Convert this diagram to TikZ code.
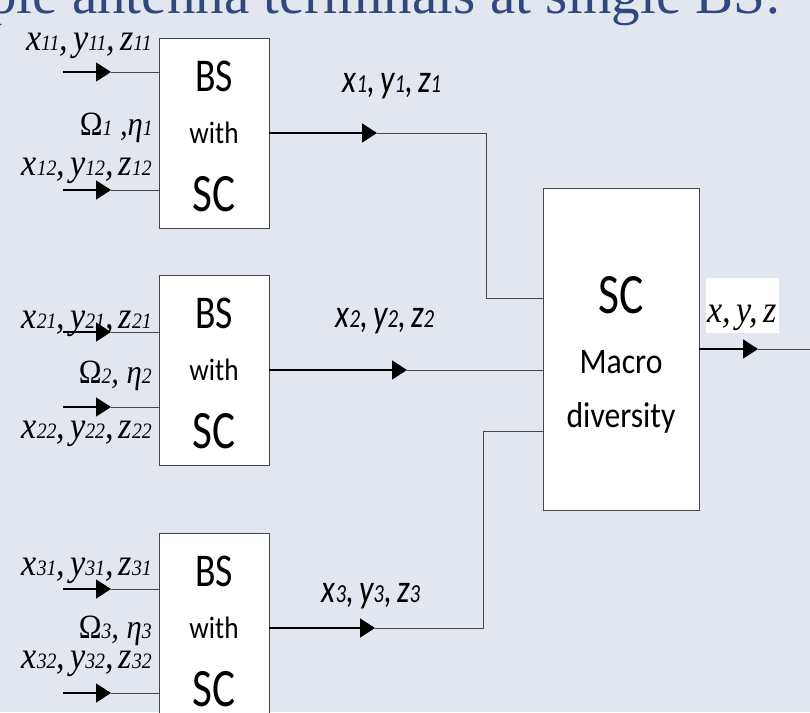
\documentclass[tikz,border=0pt]{standalone}
\usepackage{fontspec}
\usetikzlibrary{arrows.meta}

\newfontfamily\boxfont{Carlito}[FakeStretch=0.8]
\newfontfamily\boxsmallfont{Carlito}[FakeStretch=0.88]
\newfontfamily\sigfont{Liberation Serif}[FakeStretch=0.9]
\newfontfamily\headfont{Liberation Serif}

\definecolor{slidebg}{RGB}{226,230,239}
\definecolor{headblue}{RGB}{47,72,128}
\definecolor{wiregray}{RGB}{70,70,70}

\newcommand{\lsub}[2][24]{{\fontsize{#1}{#1}\selectfont #2}}
\newcommand{\trip}[2]{x\lsub[#1]{#2},\hspace{5pt}y\lsub[#1]{#2},\hspace{5pt}z\lsub[#1]{#2}}

\begin{document}
\begin{tikzpicture}[x=1pt,y=-1pt,
  bsbox/.style={draw=wiregray, line width=0.8pt, fill=white, minimum width=110pt, minimum height=190pt, inner sep=0pt},
  macrobox/.style={bsbox, minimum width=156pt, minimum height=322pt},
  bigtxt/.style={font=\boxfont\fontsize{#1}{#1}\selectfont, inner sep=0pt, anchor=base},
  midtxt/.style={font=\boxsmallfont\fontsize{#1}{#1}\selectfont, inner sep=0pt, anchor=base},
  sig/.style={font=\sigfont\itshape\fontsize{38}{38}\selectfont, inner sep=0pt, anchor=base east},
  gain/.style={font=\sigfont\itshape\fontsize{34}{34}\selectfont, inner sep=0pt, anchor=base east},
  outsig/.style={font=\boxfont\itshape\fontsize{40}{40}\selectfont, inner sep=0pt, anchor=base},
  outtag/.style={fill=white, font=\sigfont\itshape\fontsize{38}{38}\selectfont, inner sep=0pt, text height=44pt, text depth=11pt, minimum width=73pt, anchor=base},
  feed/.style={line width=1.6pt, -{Triangle[length=15pt,width=19pt]}},
  wire/.style={line width=0.8pt, draw=wiregray}]

  \fill[slidebg] (0,0) rectangle (810,712);
  \useasboundingbox (0,0) rectangle (810,712);
  \clip (0,0) rectangle (810,712);

  % slide heading, cut by the frame
  \node[font=\headfont\fontsize{57}{57}\selectfont, text=headblue, inner sep=0pt, anchor=base west] (head) at (-12,13) {ple antenna terminals at single BS:};

  % base stations with their two inputs
  \foreach \i/\cy/\ya/\yb/\la/\lb in {1/133/72/190/50/175, 2/370/332/407/328/438, 3/628/589/693/575/668} {
    \node[bsbox] (bs\i) at (214,\cy) {};
    \node[bigtxt=47] (bs\i-top) at ([yshift=42pt]bs\i.center) {BS};
    \node[midtxt=31] (bs\i-mid) at ([yshift=-10pt]bs\i.center) {with};
    \node[bigtxt=54] (bs\i-bot) at ([yshift=-78pt]bs\i.center) {SC};
    \coordinate (in\i1) at (63,\ya);
    \coordinate (in\i2) at (63,\yb);
    \coordinate (tip\i1) at (111,\ya);
    \coordinate (tip\i2) at (111,\yb);
    \draw[feed] (in\i1) -- (tip\i1);
    \draw[wire] (tip\i1) -- (tip\i1 -| bs\i.west);
    \draw[feed] (in\i2) -- (tip\i2);
    \draw[wire] (tip\i2) -- (tip\i2 -| bs\i.west);
    \node[sig] (lab\i1) at (152,\la) {\trip{22}{\i1}};
    \node[sig] (lab\i2) at (152,\lb) {\trip{22}{\i2}};
  }

  % gains
  \node[gain] (gain1) at (153,135) {{\upshape Ω}\lsub[22]{1} ,η\lsub[22]{1}};
  \node[gain] (gain2) at (152,383) {{\upshape Ω}\lsub[22]{2}, η\lsub[22]{2}};
  \node[gain] (gain3) at (152,638) {{\upshape Ω}\lsub[22]{3}, η\lsub[22]{3}};

  % macro diversity combiner
  \node[macrobox] (macro) at (621,349) {};
  \node[bigtxt=57] (macro-top) at ([yshift=36pt]macro.center) {SC};
  \node[midtxt=36] (macro-mid) at ([yshift=-24pt]macro.center) {Macro};
  \node[midtxt=36] (macro-bot) at ([yshift=-78pt]macro.center) {diversity};

  % links to the combiner
  \coordinate (o1) at (377,133);
  \coordinate (o2) at (407,370);
  \coordinate (o3) at (375,628);
  \coordinate (j1) at (486,298);
  \coordinate (j3) at (483,431);
  \draw[feed] (bs1.east) -- (o1);
  \draw[wire] (o1) -| (j1) -- (j1 -| macro.west);
  \draw[feed] (bs2.east) -- (o2);
  \draw[wire] (o2) -- (o2 -| macro.west);
  \draw[feed] (bs3.east) -- (o3);
  \draw[wire] (o3) -| (j3) -- (j3 -| macro.west);

  \node[outsig] (out1) at (392,92) {\trip{26}{1}};
  \node[outsig] (out2) at (385,327) {\trip{26}{2}};
  \node[outsig] (out3) at (371,602) {\trip{26}{3}};

  % combined output
  \coordinate (o4) at (758,349);
  \coordinate (sink) at (815,349);
  \draw[feed] (macro.east) -- (o4);
  \draw[wire] (o4) -- (sink);
  \node[outtag] (xyz) at (742,322) {x,\hspace{5pt}y,\hspace{5pt}z};

\end{tikzpicture}
\end{document}
